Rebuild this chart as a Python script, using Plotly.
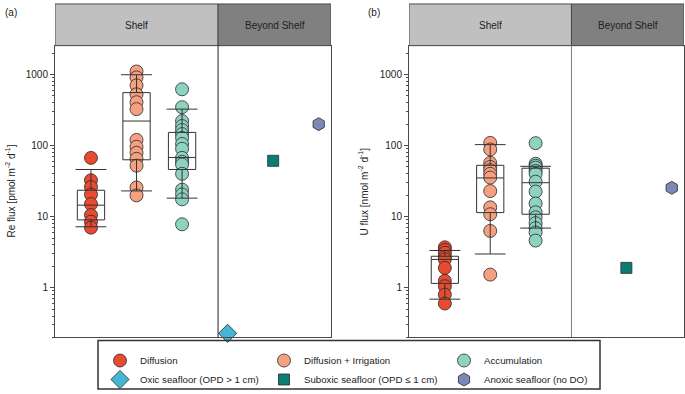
import math
import plotly.graph_objects as go

# ---------------- data ----------------
categories = ["Diffusion", "Diffusion + Irrigation", "Accumulation",
              "Oxic seafloor (OPD > 1 cm)", "Suboxic seafloor (OPD ≤ 1 cm)",
              "Anoxic seafloor (no DO)"]
cat_pos = [1, 2, 3, 4, 5, 6]
zones = ["Shelf", "Beyond Shelf"]

# Re flux [pmol m-2 d-1]
re_diffusion = [67, 32.5, 26, 20.5, 15, 10.5, 8.5, 7.0]
re_irrigation = [1100, 908, 702, 526, 407, 325, 120, 96, 79, 65, 52, 25.7, 19.9]
re_accumulation = [618, 346, 221, 188, 165, 145, 128, 105, 90, 67, 59, 54, 40,
                   24, 20.5, 17.5, 7.8]
re_oxic = [0.228]
re_suboxic = [61]
re_anoxic = [200]

# U flux [nmol m-2 d-1]
u_diffusion = [3.7, 3.4, 3.1, 2.7, 2.5, 1.9, 1.25, 1.05, 0.8, 0.6]
u_irrigation = [109, 88, 57, 50, 45, 40, 35.4, 22.9, 13.5, 10.8, 6.3, 1.53]
u_accumulation = [108, 55.5, 52, 48.8, 44, 40, 31, 22.5, 15.3, 11.5, 9.8, 8.1,
                  6.9, 6.0, 4.6]
u_oxic = []
u_suboxic = [1.9]
u_anoxic = [25.4]

# box statistics for the three shelf groups (whiskers = 10th/90th percentiles)
re_q1 = [9, 63, 46]
re_median = [14.5, 221, 68]
re_q3 = [23.5, 555, 153]
re_low = [7.2, 23, 18.2]
re_high = [46, 990, 325]

u_q1 = [1.15, 11.4, 10.8]
u_median = [2.5, 35, 30]
u_q3 = [2.77, 52.7, 48]
u_low = [0.69, 2.98, 6.9]
u_high = [3.34, 103, 51]

y_tick_vals = [1, 10, 100, 1000]
y_tick_text = ["1", "10", "100", "1000"]

# ---------------- styling ----------------
W, H = 685, 394
FONT = "Liberation Sans, Arial, sans-serif"
colors = ["#e84b30", "#f4a081", "#8ed3c0", "#45b5d5", "#0b7d77", "#7c88b6"]
symbols = ["circle", "circle", "circle", "diamond", "square", "hexagon"]
sizes = [13, 13, 13, 14, 11, 13]
legend_ids = ["legend", "legend2", "legend3", "legend", "legend2", "legend3"]
EDGE = "#2a2a2a"
FRAME = "#4a4a4a"

def px_x(p):
    return p / W

def px_y(p):
    return (H - p) / H

x_range = [0.21, 6.27]
divider = 3.79
y_range = [math.log10(0.2), math.log10(2540)]
plot_top, plot_bot = 46, 340
head_top = 4

panels = [
    dict(xa="x", ya="y", xo="x3", yo="y3", dom=[px_x(55), px_x(331)],
         series=[re_diffusion, re_irrigation, re_accumulation, re_oxic, re_suboxic, re_anoxic],
         q1=re_q1, med=re_median, q3=re_q3, lo=re_low, hi=re_high,
         title="Re flux [pmol m<sup>-2</sup> d<sup>-1</sup>]", tx=10, lab="(a)", lx=3,
         divcolor="#222222"),
    dict(xa="x2", ya="y2", xo="x4", yo="y4", dom=[px_x(409), px_x(684)],
         series=[u_diffusion, u_irrigation, u_accumulation, u_oxic, u_suboxic, u_anoxic],
         q1=u_q1, med=u_median, q3=u_q3, lo=u_low, hi=u_high,
         title="U flux [nmol m<sup>-2</sup> d<sup>-1</sup>]", tx=363, lab="(b)", lx=366,
         divcolor="#7a7a7a"),
]

fig = go.Figure()
shapes = []
annotations = []

for pi, p in enumerate(panels):
    # points
    for ci, vals in enumerate(p["series"]):
        fig.add_trace(go.Scatter(
            x=[cat_pos[ci]] * len(vals) if vals else [cat_pos[ci]],
            y=vals if vals else [None],
            mode="markers", name=categories[ci],
            legend=legend_ids[ci],
            showlegend=(pi == 0),
            marker=dict(symbol=symbols[ci], size=sizes[ci], color=colors[ci],
                        line=dict(color=EDGE, width=0.8)),
            cliponaxis=False, hoverinfo="skip",
            xaxis=p["xa"], yaxis=p["ya"]))
    # boxes (on overlay axes so they sit above the points)
    for bi in range(3):
        fig.add_trace(go.Box(
            x=[cat_pos[bi]], q1=[p["q1"][bi]], median=[p["med"][bi]], q3=[p["q3"][bi]],
            lowerfence=[p["lo"][bi]], upperfence=[p["hi"][bi]],
            width=0.6, whiskerwidth=0, fillcolor="rgba(0,0,0,0)",
            line=dict(color="#333333", width=1), boxpoints=False,
            showlegend=False, hoverinfo="skip",
            xaxis=p["xo"], yaxis=p["yo"]))
        fig.add_trace(go.Scatter(
            x=[cat_pos[bi], cat_pos[bi]], y=[p["lo"][bi], p["hi"][bi]],
            mode="markers", showlegend=False, hoverinfo="skip",
            marker=dict(symbol="line-ew", size=22, color="#333333",
                        line=dict(color="#333333", width=1)),
            xaxis=p["xo"], yaxis=p["yo"]))

    # header boxes
    for zi, (x0, x1, fc) in enumerate([(x_range[0], divider, "#c0c0c0"),
                                        (divider, x_range[1], "#808080")]):
        shapes.append(dict(type="rect", xref=p["xa"], yref="paper",
                           x0=x0, x1=x1, y0=px_y(plot_top), y1=px_y(head_top),
                           fillcolor=fc, line=dict(color=FRAME, width=1), layer="above"))
        annotations.append(dict(text=zones[zi], xref=p["xa"], yref="paper",
                                x=(x0 + x1) / 2, y=px_y(26), showarrow=False,
                                yanchor="middle",
                                font=dict(size=10, color="#222222", family=FONT)))
    # divider line
    shapes.append(dict(type="line", xref=p["xa"], yref="paper", x0=divider, x1=divider,
                       y0=px_y(plot_bot), y1=px_y(plot_top),
                       line=dict(color=p["divcolor"], width=1), layer="above"))
    # axis title and panel label
    annotations.append(dict(text=p["title"], xref="paper", yref="paper",
                            x=px_x(p["tx"]), y=px_y(193), textangle=-90,
                            showarrow=False, xanchor="center", yanchor="middle",
                            font=dict(size=10, color="#222222", family=FONT)))
    annotations.append(dict(text=p["lab"], xref="paper", yref="paper",
                            x=px_x(p["lx"]), y=px_y(13), showarrow=False,
                            xanchor="left", yanchor="middle",
                            font=dict(size=10, color="#222222", family=FONT)))

# legend frame
shapes.append(dict(type="rect", xref="paper", yref="paper",
                   x0=px_x(98), x1=px_x(600), y0=px_y(392), y1=px_y(343),
                   line=dict(color="#333333", width=1.5), fillcolor="rgba(0,0,0,0)"))

xaxis_common = dict(range=x_range, showticklabels=False, ticks="", showgrid=False,
                    zeroline=False, fixedrange=True)
yaxis_common = dict(type="log", range=y_range, showgrid=False, zeroline=False,
                    fixedrange=True)

layout = dict(
    width=W, height=H, margin=dict(l=0, r=0, t=0, b=0),
    paper_bgcolor="white", plot_bgcolor="white",
    font=dict(family=FONT, size=10, color="#222222"),
    shapes=shapes, annotations=annotations,
    boxmode="overlay", showlegend=True,
)

for p, xn, yn, xo, yo in [(panels[0], "xaxis", "yaxis", "xaxis3", "yaxis3"),
                          (panels[1], "xaxis2", "yaxis2", "xaxis4", "yaxis4")]:
    layout[xn] = dict(xaxis_common, domain=p["dom"], anchor=p["ya"],
                      showline=True, mirror=True, linecolor=FRAME, linewidth=1)
    layout[yn] = dict(yaxis_common, domain=[px_y(plot_bot), px_y(plot_top)],
                      anchor=p["xa"], showline=True, mirror=True, linecolor=FRAME,
                      linewidth=1, tickmode="array", tickvals=y_tick_vals,
                      ticktext=y_tick_text, ticks="outside", ticklen=4, tickwidth=1,
                      tickcolor=FRAME, tickfont=dict(size=10, color="#222222"),
                      minor=dict(ticks="outside", ticklen=2, dtick="D1",
                                 tickcolor=FRAME, showgrid=False))
    layout[xo] = dict(xaxis_common, overlaying=p["xa"], anchor=p["yo"], visible=False)
    layout[yo] = dict(yaxis_common, overlaying=p["ya"], anchor=p["xo"], visible=False)

leg_common = dict(orientation="v", xanchor="left", yanchor="top", bgcolor="rgba(0,0,0,0)",
                  borderwidth=0, font=dict(size=9.7, color="#222222", family=FONT),
                  tracegroupgap=0, itemsizing="trace", itemclick=False,
                  itemdoubleclick=False)
layout["legend"] = dict(leg_common, x=px_x(100), y=px_y(349))
layout["legend2"] = dict(leg_common, x=px_x(264), y=px_y(349))
layout["legend3"] = dict(leg_common, x=px_x(444), y=px_y(349))

fig.update_layout(layout)
fig.write_html("out.html", config={"displayModeBar": False},
               post_script="document.body.style.margin='0';document.body.style.padding='0';")
